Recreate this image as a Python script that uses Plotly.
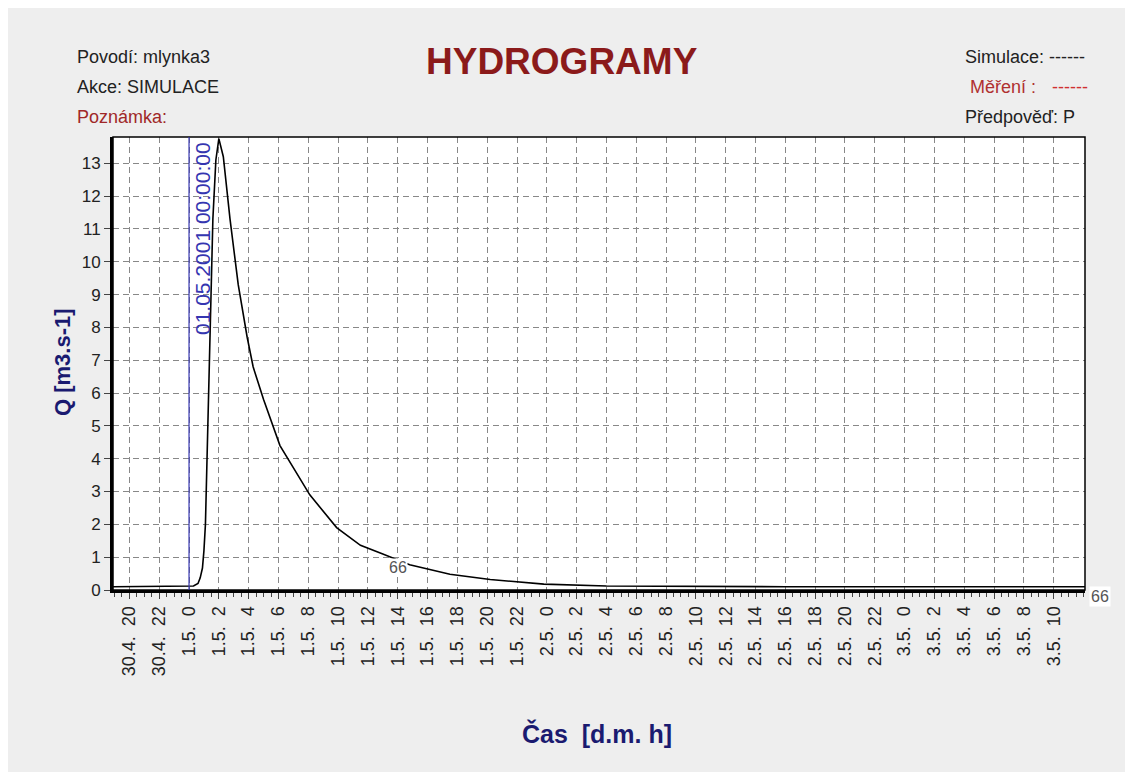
import plotly.graph_objects as go

# ---- data ----
hours = [-5.1, 0.0, 0.3, 0.6, 0.75, 0.9, 1.0, 1.1, 1.2, 1.36, 1.45, 1.6, 1.8, 2.0,
         2.3, 2.75, 3.3, 3.9, 4.3, 5.0, 6.1, 7.4, 8.1, 9.9, 11.5, 13.0, 14.8,
         17.5, 20.2, 23.8, 28.0, 40.0, 60.1]
flow = [0.1, 0.1, 0.12, 0.2, 0.37, 0.67, 1.2, 2.0, 3.9, 6.8, 9.2, 11.3, 13.1, 13.75,
        13.2, 11.3, 9.3, 7.7, 6.8, 5.8, 4.4, 3.4, 2.9, 1.9, 1.36, 1.1, 0.77,
        0.48, 0.32, 0.18, 0.12, 0.1, 0.1]

tick_hours = list(range(-4, 60, 2))
tick_labels = ["30.4.  20", "30.4.  22",
               "1.5.  0", "1.5.  2", "1.5.  4", "1.5.  6", "1.5.  8", "1.5.  10",
               "1.5.  12", "1.5.  14", "1.5.  16", "1.5.  18", "1.5.  20", "1.5.  22",
               "2.5.  0", "2.5.  2", "2.5.  4", "2.5.  6", "2.5.  8", "2.5.  10",
               "2.5.  12", "2.5.  14", "2.5.  16", "2.5.  18", "2.5.  20", "2.5.  22",
               "3.5.  0", "3.5.  2", "3.5.  4", "3.5.  6", "3.5.  8", "3.5.  10"]
y_ticks = list(range(0, 14))
x_range = [-5.1, 60.1]
y_range = [0, 13.8]
marker_hour = 0.0
marker_text = "01.05.2001 00:00:00"
series_label = "66"
label_hour, label_q = 14.0, 0.7

FONT = "Liberation Sans, Arial, sans-serif"
OX, OY = 8, 8               # page body margin
W, H = 1117, 764
L, R, T, B = 113 - OX, 1085 - OX, 137 - OY, 590 - OY


def px(x):  # reference page pixel -> paper fraction
    return (x - OX - L) / (R - L)


def py(y):
    return (B - (y - OY)) / (B - T)


fig = go.Figure()
fig.add_trace(go.Scatter(x=hours, y=flow, mode="lines",
                         line=dict(color="black", width=1.6), hoverinfo="skip",
                         showlegend=False))

shapes = [
    dict(type="rect", xref="paper", yref="paper", x0=0, x1=1, y0=0, y1=1,
         line=dict(width=1.5, color="black"), layer="above"),
    dict(type="line", xref="x", yref="paper", x0=marker_hour, x1=marker_hour, y0=0, y1=1,
         line=dict(width=1.2, color="#3535b0"), layer="above"),
]

ann = [
    dict(text="<b>HYDROGRAMY</b>", x=px(562), y=py(61),
         font=dict(size=37, color="#8b1a1a")),
    dict(text="Povodí: mlynka3", x=px(75), y=py(57), xanchor="left"),
    dict(text="Akce: SIMULACE", x=px(75), y=py(87), xanchor="left"),
    dict(text="Poznámka:", x=px(75), y=py(117), xanchor="left", font=dict(color="#a02828")),
    dict(text="Simulace: ------", x=px(963), y=py(57), xanchor="left"),
    dict(text="Měření :", x=px(968), y=py(87), xanchor="left", font=dict(color="#b03030")),
    dict(text="------", x=px(1090), y=py(87), xanchor="right", font=dict(color="#d03030")),
    dict(text="Předpověď: P", x=px(963), y=py(117), xanchor="left"),
    dict(text="<b>Q [m3.s-1]</b>", x=px(62), y=py(362), textangle=-90,
         font=dict(size=22, color="#1a1a70")),
    dict(text="<b>Čas  [d.m. h]</b>", x=px(597), y=py(733),
         font=dict(size=25, color="#1a1a70")),
    dict(text=series_label, x=px(1100), y=py(596), bgcolor="white",
         font=dict(size=16, color="#555555")),
]
for a in ann:
    a.setdefault("xref", "paper")
    a.setdefault("yref", "paper")
    a.setdefault("xanchor", "center")
    a.setdefault("yanchor", "middle")
    a.setdefault("showarrow", False)
    f = a.get("font", {})
    f.setdefault("size", 18)
    f.setdefault("color", "#222222")
    f.setdefault("family", FONT)
    a["font"] = f
    fig.add_annotation(**a)

fig.add_annotation(text=marker_text, x=marker_hour, xref="x", y=1, yref="paper",
                   xanchor="left", yanchor="top", yshift=-3, xshift=0, textangle=-90,
                   showarrow=False, font=dict(size=21, color="#3535b0", family=FONT))
fig.add_annotation(text=series_label, x=label_hour, y=label_q, xref="x", yref="y",
                   xanchor="center", yanchor="middle",
                   showarrow=False, bgcolor="white", borderpad=0,
                   font=dict(size=16, color="#555555", family=FONT))

fig.update_layout(
    width=W, height=H,
    margin=dict(l=L, r=W - R, t=T, b=H - B, pad=0),
    paper_bgcolor="#eeeeee", plot_bgcolor="white",
    shapes=shapes,
    font=dict(family=FONT, color="#222222"),
    xaxis=dict(range=x_range, tickmode="array", tickvals=tick_hours, ticktext=tick_labels,
               tickangle=-90, tickfont=dict(size=18, color="#222222"),
               ticks="outside", ticklen=6, tickcolor="#444444",
               showline=True, linewidth=3, linecolor="black",
               showgrid=True, gridcolor="#888888", griddash="6px,4px", gridwidth=1,
               minor=dict(dtick=0.5, tick0=0, ticks="outside", ticklen=4, tickcolor="#444444",
                          showgrid=False),
               zeroline=False, fixedrange=True),
    yaxis=dict(range=y_range, tickmode="array", tickvals=y_ticks,
               tickfont=dict(size=17, color="#222222"),
               ticks="outside", ticklen=6, tickcolor="#444444",
               showline=True, linewidth=3, linecolor="black",
               showgrid=True, gridcolor="#888888", griddash="6px,4px", gridwidth=1,
               zeroline=False, fixedrange=True),
)

fig.write_html("out.html")
